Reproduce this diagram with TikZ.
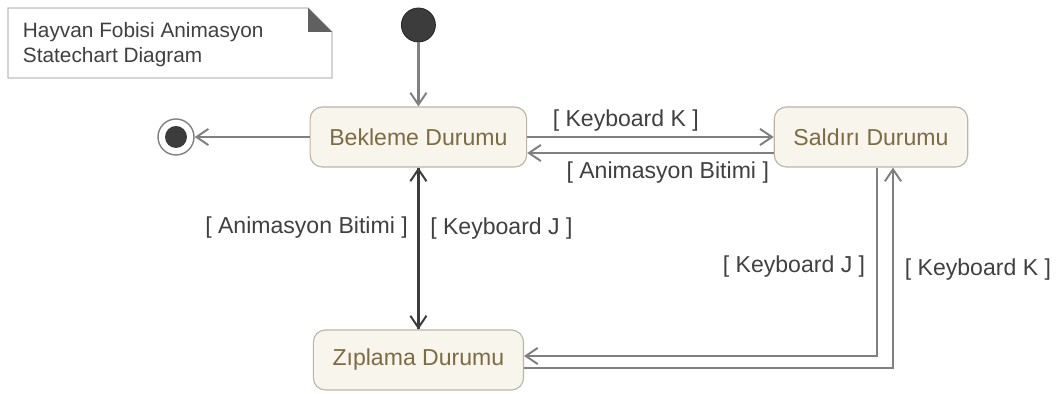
\documentclass[tikz,border=0pt]{standalone}
\usepackage{fontspec}
\setmainfont{Liberation Sans}
\usetikzlibrary{arrows.meta,positioning}

\definecolor{linegray}{HTML}{808080}
\definecolor{darkline}{HTML}{3C3C3C}
\definecolor{statefill}{HTML}{F8F5EC}
\definecolor{stateline}{HTML}{BAB5A7}
\definecolor{statetext}{HTML}{7D6B42}
\definecolor{labeltext}{HTML}{404040}
\definecolor{notegray}{HTML}{BEBEBE}
\definecolor{notefold}{HTML}{606060}

\begin{document}
\begin{tikzpicture}
\tikzstyle{state}=[rectangle,rounded corners=0.3cm,draw=stateline,line width=0.8pt,fill=statefill,text=statetext,minimum height=1.5cm,inner xsep=0.48cm,font=\fontsize{16.4}{19}\selectfont]
\tikzstyle{guard}=[text=labeltext,font=\fontsize{16.4}{19}\selectfont]
\tikzstyle{trans}=[draw=linegray,line width=1.7pt,-{Straight Barb[length=8.5pt,width=11.5pt,line width=1.4pt]}]
\tikzstyle{initial}=[circle,fill=darkline,draw=black!85,line width=0.6pt,minimum size=0.85cm,inner sep=0pt]
\tikzstyle{final}=[circle,fill=white,draw=linegray,line width=1pt,minimum size=0.9cm,inner sep=0pt]
\tikzstyle{finaldot}=[circle,fill=darkline,minimum size=0.55cm,inner sep=0pt]
\useasboundingbox (0,0) rectangle (26.4,9.85);

% note with folded corner
\draw [draw=notegray,line width=0.8pt,fill=white] (0.2,9.65) -- (7.7,9.65) -- (8.3,9.05) -- (8.3,7.9) -- (0.2,7.9) -- cycle;
\fill [notefold] (7.7,9.65) -- (7.7,9.05) -- (8.3,9.05) -- cycle;
\node [anchor=west,align=left,text=labeltext,font=\fontsize{14.8}{17.8}\selectfont] (note) at (0.45,8.74) {Hayvan Fobisi Animasyon\\Statechart Diagram};

% states
\node [initial] (start) at (10.46,9.225) {};
\node [state] (bekleme) at (10.46,6.425) {Bekleme Durumu};
\node [state] (saldiri) at (21.775,6.425) {Saldırı Durumu};
\node [state] (ziplama) at (10.46,0.85) {Zıplama Durumu};
\node [final] (stop) at (4.4,6.425) {};
\node [finaldot] (stopdot) at (stop) {};

% transitions
\draw [trans] (start) -- (bekleme);
\draw [trans] (bekleme) -- (stop);
\draw [trans] (bekleme.east) -- node [guard,above,pos=0.4] (gk1) {[ Keyboard K ]} (saldiri.west);
\draw [trans] ([yshift=-0.4cm]saldiri.west) -- node [guard,below,pos=0.43,yshift=-0.08cm] (ga1) {[ Animasyon Bitimi ]} ([yshift=-0.4cm]bekleme.east);
\draw [trans,draw=darkline] (ziplama.north) -- node [guard,left,pos=0.63,xshift=-0.12cm] (ga2) {[ Animasyon Bitimi ]} (bekleme.south);
\draw [trans,draw=darkline] (bekleme.south) -- node [guard,right,pos=0.374,xshift=0.15cm] (gj1) {[ Keyboard J ]} (ziplama.north);
\draw [trans] ([xshift=0.15cm]saldiri.south) |- node [guard,left,pos=0.263,xshift=-0.15cm] (gj2) {[ Keyboard J ]} ([yshift=0.1cm]ziplama.east);
\draw [trans] ([yshift=-0.2cm]ziplama.east) -| node [guard,right,pos=0.745,xshift=0.15cm] (gk2) {[ Keyboard K ]} ([xshift=0.55cm]saldiri.south);
\end{tikzpicture}
\end{document}
